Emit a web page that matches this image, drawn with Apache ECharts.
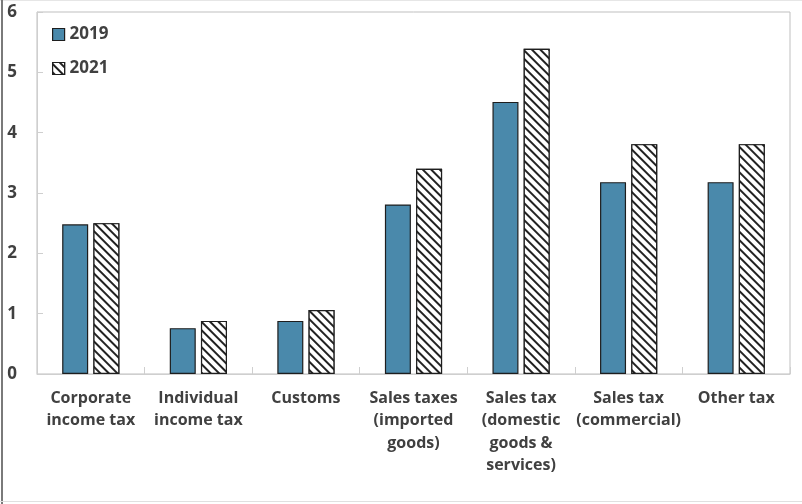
<!DOCTYPE html>
<html>
<head>
<meta charset="utf-8">
<script src="https://cdn.jsdelivr.net/npm/echarts@6/dist/echarts.min.js"></script>
<style>
html,body{margin:0;padding:0;background:#fff;}
#c{width:802px;height:504px;}
</style>
</head>
<body>
<div id="c"></div>
<script>
var categories = [
  "Corporate\nincome tax",
  "Individual\nincome tax",
  "Customs",
  "Sales taxes\n(imported\ngoods)",
  "Sales tax\n(domestic\ngoods &\nservices)",
  "Sales tax\n(commercial)",
  "Other tax"
];
var seriesNames = ["2019", "2021"];
var values2019 = [2.48, 0.76, 0.88, 2.81, 4.51, 3.18, 3.18];
var values2021 = [2.50, 0.88, 1.06, 3.40, 5.39, 3.81, 3.81];
var yTicks = [0, 1, 2, 3, 4, 5, 6];

var textColor = '#404040';
var font = '"Open Sans", "DejaVu Sans", sans-serif';

var chart = echarts.init(document.getElementById('c'), null, {renderer: 'canvas'});
var hatch = {
  symbol: 'rect',
  symbolSize: 1,
  color: '#222',
  backgroundColor: '#ffffff',
  dashArrayX: [1, 0],
  dashArrayY: [1.5, 3.3],
  rotation: Math.PI / 4
};
chart.setOption({
  animation: false,
  backgroundColor: '#fff',
  textStyle: {fontFamily: font},
  graphic: [
    {type: 'rect', shape: {x: 0, y: 0, width: 802, height: 1}, style: {fill: '#e6e6e6'}, silent: true},
    {type: 'rect', shape: {x: 1, y: 0, width: 2, height: 504}, style: {fill: '#7a7a7a'}, silent: true},
    {type: 'rect', shape: {x: 0, y: 501, width: 802, height: 1}, style: {fill: '#e0e0e0'}, silent: true}
  ],
  grid: {
    left: 37, right: 12, top: 12, bottom: 130,
    show: true, borderColor: '#bfbfbf', borderWidth: 1, backgroundColor: 'transparent'
  },
  legend: {
    orient: 'vertical',
    left: 47, top: 21,
    itemWidth: 12, itemHeight: 12, itemGap: 17, itemStyle: {borderWidth: 1.2},
    icon: 'rect',
    data: seriesNames,
    textStyle: {fontFamily: font, fontSize: 17, fontWeight: 'bold', color: textColor}
  },
  xAxis: {
    type: 'category',
    data: categories,
    axisLine: {show: true, lineStyle: {color: '#cfcfcf', width: 1}},
    axisTick: {show: true, inside: true, length: 7, alignWithLabel: false, lineStyle: {color: '#cfcfcf'}},
    axisLabel: {
      interval: 0, margin: 13,
      fontFamily: font, fontSize: 16, fontWeight: 'bold', color: textColor, lineHeight: 22.5
    }
  },
  yAxis: {
    type: 'value',
    min: 0, max: 6, interval: 1,
    axisLine: {show: true, lineStyle: {color: '#cfcfcf'}},
    axisTick: {show: true, inside: true, length: 6, lineStyle: {color: '#cfcfcf'}},
    splitLine: {show: false},
    axisLabel: {
      margin: 20, fontFamily: font, fontSize: 17, fontWeight: 'bold', color: textColor,
      formatter: function (v) { return yTicks.indexOf(v) >= 0 ? String(v) : ''; }
    }
  },
  series: [
    {
      name: seriesNames[0], type: 'bar', data: values2019,
      barWidth: 26, barGap: '20%',
      itemStyle: {color: '#4a89ab', borderColor: '#1e1e1e', borderWidth: 1.2}
    },
    {
      name: seriesNames[1], type: 'bar', data: values2021,
      barWidth: 26,
      itemStyle: {color: '#ffffff', borderColor: '#1e1e1e', borderWidth: 1.2, decal: hatch}
    }
  ]
});
</script>
</body>
</html>
